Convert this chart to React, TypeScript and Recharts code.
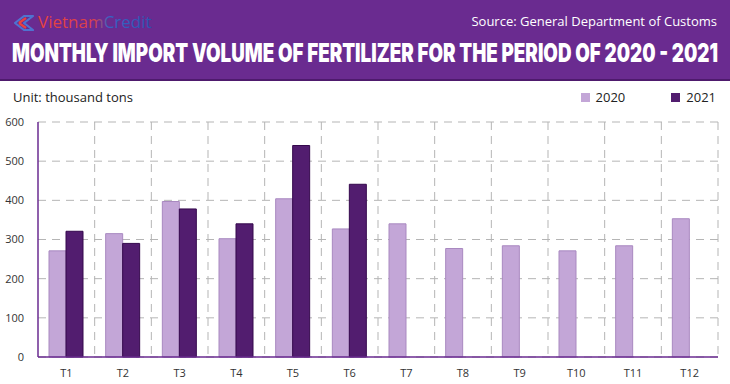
import React from "react";
import { Bar, BarChart, CartesianGrid, XAxis, YAxis } from "recharts";

const months = ["T1", "T2", "T3", "T4", "T5", "T6", "T7", "T8", "T9", "T10", "T11", "T12"];
const volume2020 = [271, 315, 397, 302, 404, 327, 340, 277, 284, 271, 284, 353];
const volume2021: (number | null)[] = [321, 290, 378, 340, 540, 441, null, null, null, null, null, null];
const yTicks = [0, 100, 200, 300, 400, 500, 600];
const seriesNames = ["2020", "2021"];

const data = months.map((m, i) => ({
  month: m,
  y2020: volume2020[i],
  y2021: volume2021[i],
}));

const PURPLE = "#6a2b90";
const LIGHT = "#c3a6d7";
const DARK = "#521d6f";
const FONT = "'Open Sans', 'DejaVu Sans', sans-serif";

function LegendBox() {
  const colors = [LIGHT, DARK];
  return (
    <div
      style={{
        position: "absolute",
        top: 88,
        right: 14,
        display: "flex",
        fontFamily: FONT,
      }}
    >
      {seriesNames.map((name, i) => (
        <div key={name} style={{ display: "flex", alignItems: "center", marginLeft: 46 }}>
          <span style={{ width: 9, height: 9, background: colors[i], display: "inline-block", marginRight: 6 }} />
          <span style={{ fontSize: 13, color: "#222" }}>{name}</span>
        </div>
      ))}
    </div>
  );
}

function Header() {
  return (
    <svg width={730} height={81} style={{ position: "absolute", left: 0, top: 0 }}>
      <defs>
        <linearGradient id="logoGrad" x1="0" y1="0" x2="1" y2="0">
          <stop offset="0%" stopColor="#e9423f" />
          <stop offset="50%" stopColor="#d8404f" />
          <stop offset="62%" stopColor="#3a63c4" />
          <stop offset="100%" stopColor="#2c55b0" />
        </linearGradient>
      </defs>
      <rect x={0} y={0} width={730} height={80} fill={PURPLE} />
      <rect x={0} y={79} width={730} height={2} fill="#4e1a6d" />
      <g fill="none" strokeWidth={2.2} strokeLinejoin="round">
        <path d="M15 23 L24 16 L33 16 L24 23 L33 30 L24 30 Z" stroke="#4f73d0" />
        <path d="M19 23 L26 18 M26 28 L19 23" stroke="#e9423f" />
      </g>
      <text x={38} y={28} fontFamily={FONT} fontSize={17} fill="url(#logoGrad)">
        VietnamCredit
      </text>
      <text x={717} y={26} textAnchor="end" fontFamily={FONT} fontSize={13} fill="#ffffff">
        Source: General Department of Customs
      </text>
      <g transform="translate(12,62) scale(1,1.35)">
        <text
          x={0}
          y={0}
          textLength={706}
          lengthAdjust="spacingAndGlyphs"
          fontFamily="Inter, 'DejaVu Sans', sans-serif"
          fontWeight={900}
          fontSize={19}
          fill="#ffffff"
        >
          MONTHLY IMPORT VOLUME OF FERTILIZER FOR THE PERIOD OF 2020 - 2021
        </text>
      </g>
    </svg>
  );
}

export default function App() {
  return (
    <div style={{ position: "relative", width: 730, height: 384, background: "#fff", overflow: "hidden" }}>
      <style>{`body{margin:0}`}</style>
      <BarChart
        width={730}
        height={384}
        data={data}
        margin={{ top: 122, right: 12, bottom: 7, left: 8 }}
        barGap={0}
        barSize={17}
        style={{ position: "absolute", left: 0, top: 0, fontFamily: FONT }}
      >
        <CartesianGrid
          stroke="#b5b5b5"
          strokeDasharray="8 6"
          verticalCoordinatesGenerator={({ offset }: any) =>
            months.map((_, i) => offset.left + ((i + 1) * offset.width) / months.length)
          }
        />
        <XAxis
          dataKey="month"
          height={20}
          tickLine={false}
          axisLine={{ stroke: PURPLE, strokeWidth: 1.5 }}
          tick={{ fontSize: 11, fill: "#333" }}
          tickMargin={6}
        />
        <YAxis
          width={30}
          domain={[0, 600]}
          ticks={yTicks}
          tickLine={false}
          axisLine={{ stroke: PURPLE, strokeWidth: 1.5 }}
          tick={{ fontSize: 11, fill: "#333" }}
          tickMargin={8}
        />
        <Bar dataKey="y2020" name={seriesNames[0]} fill={LIGHT} stroke="#a989c0" strokeWidth={1} isAnimationActive={false} />
        <Bar dataKey="y2021" name={seriesNames[1]} fill={DARK} stroke="#35094d" strokeWidth={1} isAnimationActive={false} />
      </BarChart>
      <Header />
      <LegendBox />
      <div
        style={{
          position: "absolute",
          left: 13,
          top: 88,
          fontFamily: FONT,
          fontSize: 13,
          color: "#222",
        }}
      >
        Unit: thousand tons
      </div>
    </div>
  );
}
